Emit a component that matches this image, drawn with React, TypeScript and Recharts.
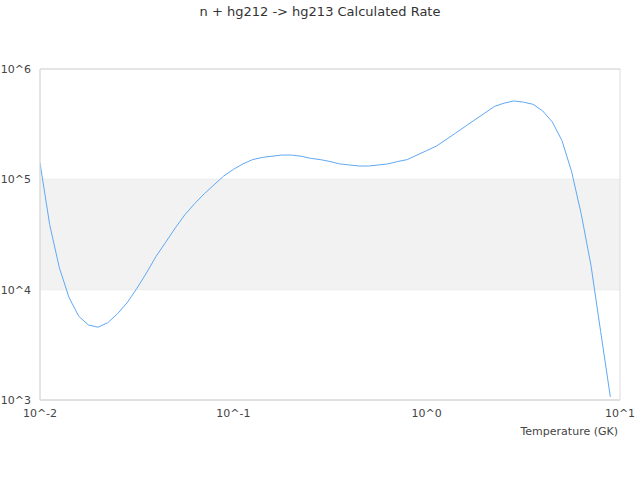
import React from 'react';
import { ComposedChart, Line, XAxis, YAxis, CartesianGrid, ReferenceArea } from 'recharts';

const temperatures: number[] = [
  0.01, 0.01122, 0.01259, 0.01413, 0.01585, 0.01778, 0.01995, 0.02239, 0.02512, 0.02818,
  0.03162, 0.03548, 0.03981, 0.04467, 0.05012, 0.05623, 0.0631, 0.07079, 0.07943, 0.08913,
  0.1, 0.1122, 0.1259, 0.1413, 0.1585, 0.1778, 0.1995, 0.2239, 0.2512, 0.2818,
  0.3162, 0.3548, 0.3981, 0.4467, 0.5012, 0.5623, 0.631, 0.7079, 0.7943, 0.8913,
  1.0, 1.122, 1.259, 1.413, 1.585, 1.778, 1.995, 2.239, 2.512, 2.818,
  3.162, 3.548, 3.981, 4.467, 5.012, 5.623, 6.31, 7.079, 7.943, 8.913,
];

const rates: number[] = [
  141000, 38900, 15800, 8500, 5750, 4790, 4570, 5010, 6030, 7590,
  10200, 14100, 20000, 26900, 36300, 47900, 60300, 74100, 89100, 107000,
  123000, 138000, 151000, 158000, 162000, 166000, 166000, 162000, 155000, 151000,
  145000, 138000, 135000, 132000, 132000, 135000, 138000, 145000, 151000, 166000,
  182000, 200000, 229000, 263000, 302000, 347000, 398000, 457000, 490000, 513000,
  501000, 479000, 417000, 331000, 224000, 117000, 47900, 16600, 4170, 1070,
];

const xTicks: number[] = [0.01, 0.1, 1, 10];
const xTickLabels: string[] = ['10^-2', '10^-1', '10^0', '10^1'];
const yTicks: number[] = [1000, 10000, 100000, 1000000];
const yTickLabels: string[] = ['10^3', '10^4', '10^5', '10^6'];

const data = temperatures.map((t, i) => ({ t, r: rates[i] }));

const FONT = '"DejaVu Sans", sans-serif';

export default function App() {
  return (
    <div style={{ position: 'absolute', left: 0, top: 0, width: 640, height: 480, fontFamily: FONT }}>
      <div
        style={{
          position: 'absolute',
          left: 0,
          width: 640,
          top: 4,
          textAlign: 'center',
          fontSize: 13,
          color: '#333',
          whiteSpace: 'nowrap',
          fontFamily: FONT,
        }}
      >
        n + hg212 -&gt; hg213 Calculated Rate
      </div>
      <ComposedChart
        width={640}
        height={480}
        data={data}
        margin={{ top: 69, right: 20, left: 0, bottom: 50 }}
      >
        <ReferenceArea y1={10000} y2={100000} fill="#f2f2f2" fillOpacity={1} stroke="none" ifOverflow="extendDomain" />
        <CartesianGrid vertical={false} stroke="#dcdcdc" />
        <ReferenceArea x1={0.01} x2={10} y1={1000} y2={1000000} fill="none" stroke="#dcdcdc" />
        <XAxis
          dataKey="t"
          type="number"
          scale="log"
          domain={[0.01, 10]}
          ticks={xTicks}
          tickFormatter={(v: number) => xTickLabels[xTicks.findIndex((x) => Math.abs(x - v) < 1e-9)] ?? ''}
          allowDataOverflow
          height={30}
          axisLine={{ stroke: '#dcdcdc' }}
          tickLine={false}
          tickSize={0}
          tickMargin={9}
          interval={0}
          tick={{ fill: '#444', fontSize: 11, fontFamily: FONT }}
          label={({ viewBox }: any) => (
            <text
              x={viewBox.x + viewBox.width - 2}
              y={viewBox.y + 35}
              textAnchor="end"
              fill="#444"
              fontSize={11}
              fontFamily={FONT}
            >
              Temperature (GK)
            </text>
          )}
        />
        <YAxis
          dataKey="r"
          type="number"
          scale="log"
          domain={[1000, 1000000]}
          ticks={yTicks}
          tickFormatter={(v: number) => yTickLabels[yTicks.findIndex((y) => Math.abs(y - v) < 1e-6)] ?? ''}
          allowDataOverflow
          width={40}
          axisLine={{ stroke: '#dcdcdc' }}
          tickLine={false}
          tickSize={0}
          tickMargin={9}
          interval={0}
          tick={{ fill: '#444', fontSize: 11, fontFamily: FONT }}
        />
        <Line
          type="linear"
          dataKey="r"
          stroke="#5fa8f5"
          strokeWidth={1}
          dot={false}
          isAnimationActive={false}
        />
      </ComposedChart>
    </div>
  );
}
